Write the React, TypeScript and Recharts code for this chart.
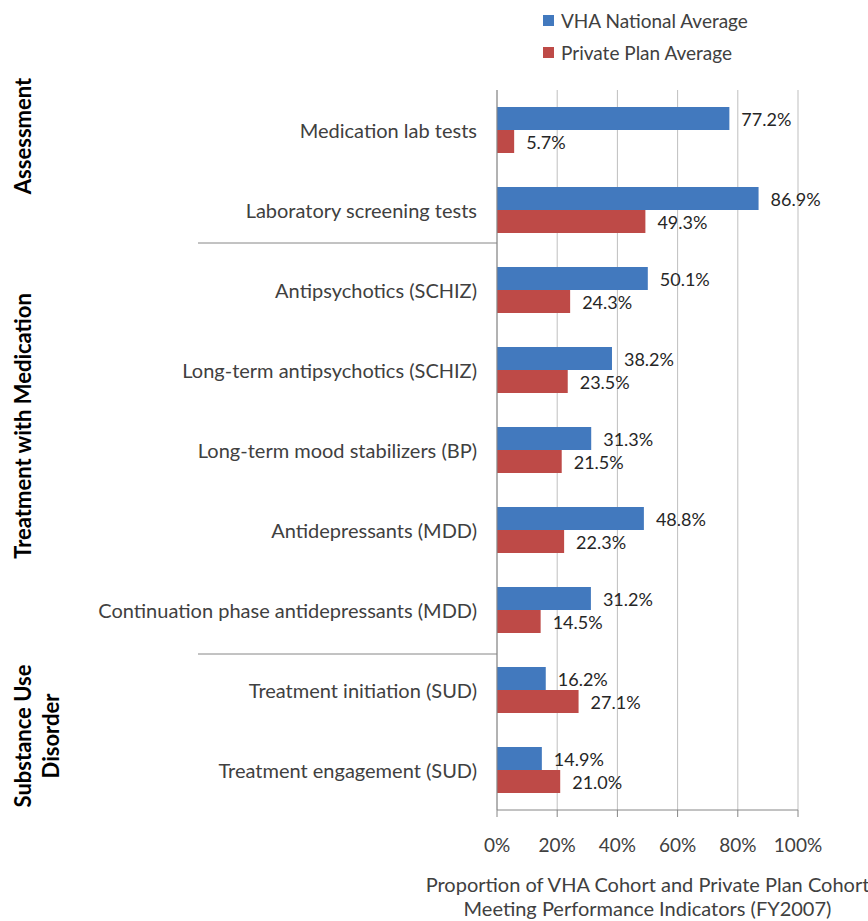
import { BarChart, Bar, XAxis, YAxis, CartesianGrid, LabelList } from "recharts";

const categories = [
  "Medication lab tests",
  "Laboratory screening tests",
  "Antipsychotics (SCHIZ)",
  "Long-term antipsychotics (SCHIZ)",
  "Long-term mood stabilizers (BP)",
  "Antidepressants (MDD)",
  "Continuation phase antidepressants  (MDD)",
  "Treatment initiation (SUD)",
  "Treatment engagement (SUD)",
];
const vhaValues = [77.2, 86.9, 50.1, 38.2, 31.3, 48.8, 31.2, 16.2, 14.9];
const privateValues = [5.7, 49.3, 24.3, 23.5, 21.5, 22.3, 14.5, 27.1, 21.0];
const xTicks = [0, 20, 40, 60, 80, 100];
const groupLabels = [["Assessment"], ["Treatment with Medication"], ["Substance Use", "Disorder"]];
const groupStarts = [0, 2, 7];
const seriesNames = ["VHA National Average", "Private Plan Average"];

const data = categories.map((name, i) => ({ name, vha: vhaValues[i], priv: privateValues[i] }));

const FONT = "Lato, 'Open Sans', sans-serif";
const BLUE = "#4279BE";
const RED = "#BE4A47";
const W = 868;
const H = 921;
const TOP = 90;
const BOTTOM = 111;
const BAND = (H - TOP - BOTTOM) / categories.length;
// where the group titles sit, relative to the group's first band start
const groupLabelShift = [46, 176, 86];
// small nudges for the separator lines (Excel draws them a bit off the band edge)
const separatorShift = [0, -7, 4];

// eslint-disable-next-line @typescript-eslint/no-explicit-any
const CategoryTick = ({ x, y, payload, index }: any) => {
  const g = groupStarts.indexOf(index);
  const bandTop = y - BAND / 2;
  return (
    <g>
      <text x={x} y={y} textAnchor="end" dominantBaseline="central" fill="#404040" fontSize={20} fontFamily={FONT}>
        {payload.value}
      </text>
      {g > 0 && (
        <line
          x1={198}
          x2={497}
          y1={bandTop + separatorShift[g]}
          y2={bandTop + separatorShift[g]}
          stroke="#868686"
          strokeWidth={1}
        />
      )}
      {g >= 0 &&
        groupLabels[g].map((line, k) => {
          const cx = 22 + k * 28;
          const cy = bandTop + groupLabelShift[g];
          return (
            <text
              key={line}
              x={cx}
              y={cy}
              transform={`rotate(-90, ${cx}, ${cy})`}
              textAnchor="middle"
              dominantBaseline="central"
              fontSize={22}
              fontWeight="bold"
              fontFamily={FONT}
              fill="#000"
            >
              {line}
            </text>
          );
        })}
    </g>
  );
};

// eslint-disable-next-line @typescript-eslint/no-explicit-any
const PercentTick = ({ x, y, payload }: any) => (
  <text x={x} y={y} dy={21} textAnchor="middle" fill="#404040" fontSize={19} fontFamily={FONT}>
    {`${payload.value}%`}
  </text>
);

// eslint-disable-next-line @typescript-eslint/no-explicit-any
const ValueLabel = ({ x, y, width, height, value }: any) => (
  <text
    x={x + width + 12}
    y={y + height / 2}
    dominantBaseline="central"
    fill="#262626"
    fontSize={18}
    fontFamily={FONT}
  >
    {`${Number(value).toFixed(1)}%`}
  </text>
);

// eslint-disable-next-line @typescript-eslint/no-explicit-any
const AxisTitle = ({ viewBox }: any) => {
  const cx = viewBox.x + viewBox.width / 2;
  return (
    <text textAnchor="middle" fill="#404040" fontSize={20} fontFamily={FONT}>
      <tspan x={cx} y={viewBox.y + 82}>Proportion of VHA Cohort and Private Plan Cohort</tspan>
      <tspan x={cx} y={viewBox.y + 106}>Meeting Performance Indicators (FY2007)</tspan>
    </text>
  );
};

const LegendBox = () => (
  <div
    style={{
      position: "absolute",
      left: 543,
      top: 4,
      fontFamily: FONT,
      fontSize: 19,
      color: "#404040",
    }}
  >
    {seriesNames.map((label, i) => (
      <div key={label} style={{ display: "flex", alignItems: "center", height: 32 }}>
        <span style={{ width: 11, height: 11, background: i === 0 ? BLUE : RED, marginRight: 7 }} />
        <span>{label}</span>
      </div>
    ))}
  </div>
);

export default function App() {
  return (
    <div style={{ position: "absolute", left: 0, top: 0, width: W, height: H, background: "#fff" }}>
      <BarChart
        width={W}
        height={H}
        data={data}
        layout="vertical"
        margin={{ top: TOP, right: 70, bottom: 0, left: 0 }}
        barCategoryGap={17}
        barGap={0}
      >
        <CartesianGrid horizontal={false} stroke="#BFBFBF" />
        <XAxis
          type="number"
          domain={[0, 100]}
          ticks={xTicks}
          interval={0}
          height={BOTTOM}
          tick={<PercentTick />}
          tickSize={7}
          tickMargin={14}
          axisLine={{ stroke: "#868686" }}
          tickLine={{ stroke: "#868686" }}
          label={<AxisTitle />}
        />
        <YAxis
          type="category"
          dataKey="name"
          width={497}
          tickSize={0}
          tickMargin={20}
          interval={0}
          tick={<CategoryTick />}
          axisLine={{ stroke: "#868686" }}
        />
        <Bar dataKey="vha" fill={BLUE} isAnimationActive={false}>
          <LabelList dataKey="vha" content={<ValueLabel />} />
        </Bar>
        <Bar dataKey="priv" fill={RED} isAnimationActive={false}>
          <LabelList dataKey="priv" content={<ValueLabel />} />
        </Bar>
      </BarChart>
      <LegendBox />
    </div>
  );
}
